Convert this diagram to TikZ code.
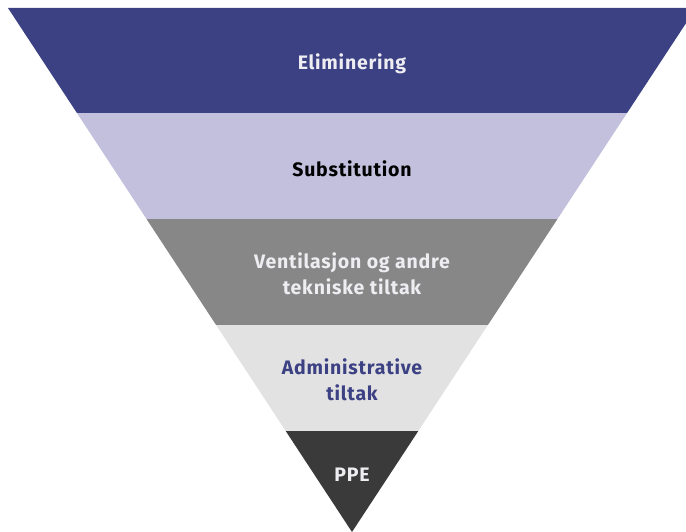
\documentclass[tikz,border=0pt]{standalone}
\usepackage{fontspec}
\setmainfont{Fira Sans}[LetterSpace=4]
\usetikzlibrary{calc}
\definecolor{bandA}{HTML}{3B4183}
\definecolor{bandB}{HTML}{C3C0DD}
\definecolor{bandC}{HTML}{878787}
\definecolor{bandD}{HTML}{E2E2E2}
\definecolor{bandE}{HTML}{3A3A3A}
\definecolor{lighttext}{HTML}{EDEDF2}
\tikzset{
  label/.style={font=\bfseries\fontsize{19.5}{25.5}\selectfont, align=center, inner sep=0pt},
}
\begin{document}
\begin{tikzpicture}[x=1pt,y=-1pt]
  \useasboundingbox (0,0) rectangle (686,532);
  \clip (0,0) rectangle (686,532);
  % outer corners of the inverted triangle
  \coordinate (TL) at (8,8);
  \coordinate (TR) at (696,8);
  \coordinate (AP) at (352,532);
  % band boundaries along both sides
  \foreach \n/\t in {1/0.2004, 2/0.4027, 3/0.6050, 4/0.8073} {
    \coordinate (L\n) at ($(TL)!\t!(AP)$);
    \coordinate (R\n) at ($(TR)!\t!(AP)$);
  }
  \fill[bandA] (TL) -- (TR) -- (R1) -- (L1) -- cycle;
  \fill[bandB] (L1) -- (R1) -- (R2) -- (L2) -- cycle;
  \fill[bandC] (L2) -- (R2) -- (R3) -- (L3) -- cycle;
  \fill[bandD] (L3) -- (R3) -- (R4) -- (L4) -- cycle;
  \fill[bandE] (L4) -- (R4) -- (AP) -- cycle;
  % band captions
  \node[label, text=lighttext] (elim) at (352,64) {Eliminering};
  \node[label, text=black] (subst) at (352,169) {Substitution};
  \node[label, text=lighttext] (vent) at (352,274) {Ventilasjon og andre\\tekniske tiltak};
  \node[label, text=bandA] (admin) at (352,380) {Administrative\\tiltak};
  \node[label, text=lighttext] (ppe) at (352,475) {PPE};
\end{tikzpicture}
\end{document}
